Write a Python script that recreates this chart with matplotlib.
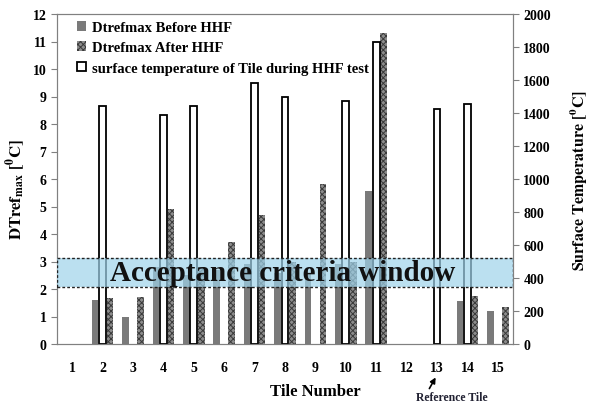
import matplotlib
matplotlib.use("Agg")
import matplotlib.pyplot as plt
import matplotlib.patches as mpatches
from matplotlib.transforms import blended_transform_factory
import numpy as np

plt.rcParams['font.family'] = ['Liberation Serif', 'DejaVu Serif']
plt.rcParams['font.weight'] = 'bold'
plt.rcParams['mathtext.fontset'] = 'stix'
plt.rcParams['hatch.linewidth'] = 0.7

tiles = list(range(1, 16))
before = [0, 1.6, 1.0, 2.8, 2.5, 2.7, 2.9, 2.6, 2.6, 2.9, 5.55, 0, 0, 1.58, 1.21]
after = [0, 1.67, 1.7, 4.9, 2.8, 3.7, 4.7, 3.0, 5.82, 3.0, 11.3, 0, 0, 1.76, 1.36]
surface = [0, 1440, 0, 1390, 1440, 0, 1580, 1500, 0, 1475, 1830, 0, 1425, 1455, 0]
window = [2.07, 3.13]

fig = plt.figure(figsize=(5.9, 4.1), dpi=100)
ax = fig.add_axes([57/590, 1-345/410, (513-57)/590, (345-15)/410])
ax2 = ax.twinx()

x = np.array(tiles, dtype=float)
w = 0.22
off = 0.245


def nz(xs, vals):
    xs = np.asarray(xs)
    v = np.asarray(vals, dtype=float)
    m = v > 0
    return xs[m], v[m]


bx, bv = nz(x - off, before)
axx, av = nz(x + off, after)
sx, sv = nz(x, surface)
ax.bar(bx, bv, w, color='#7a7a7a', edgecolor='none', zorder=2)
ax.bar(axx, av, w, color='#8c8c8c', edgecolor='#3a3a3a', hatch='xxxxxx', linewidth=0, zorder=2)
ax2.bar(sx, sv, w, color='white', edgecolor='black', linewidth=1.3, zorder=2)

ax.set_xlim(0.5, 15.5)
ax.set_ylim(0, 12)
ax2.set_ylim(0, 2000)
ax.set_yticks(range(0, 13))
ax2.set_yticks(range(0, 2001, 200))
ax.set_xticks(tiles)

for a in (ax, ax2):
    for s in a.spines.values():
        s.set_color('#808080')
ax.tick_params(axis='x', length=0, pad=12, labelsize=10)
ax.tick_params(axis='y', length=4, color='#808080', labelsize=10, direction='out')
ax2.tick_params(axis='y', length=4, color='#808080', labelsize=10, direction='out')
for lab in ax.get_xticklabels() + ax.get_yticklabels() + ax2.get_yticklabels():
    lab.set_fontweight('bold')

# acceptance window band (on top of all bars)
tr = blended_transform_factory(ax2.transAxes, ax.transData)
band = mpatches.Rectangle((0, window[0]), 1, window[1] - window[0], transform=tr,
                          facecolor='#9fd3ea', alpha=0.7, edgecolor='none', zorder=5)
ax2.add_patch(band)
border = mpatches.Rectangle((0, window[0]), 1, window[1] - window[0], transform=tr,
                            facecolor='none', edgecolor='#222222', linestyle=(0, (2, 1.5)),
                            linewidth=1.0, zorder=6)
ax2.add_patch(border)
ax2.text(7.93, 2.6, 'Acceptance criteria window',
         transform=blended_transform_factory(ax2.transData, ax.transData),
         ha='center', va='center', fontsize=21, fontweight='bold', color='#111111', zorder=7)

# legend
h1 = mpatches.Patch(facecolor='#7a7a7a', edgecolor='none')
h2 = mpatches.Patch(facecolor='#8c8c8c', edgecolor='#3a3a3a', hatch='xxxxxx', linewidth=0)
h3 = mpatches.Patch(facecolor='white', edgecolor='black', linewidth=1.3)
leg = ax2.legend([h1, h2, h3],
                 ['Dtrefmax Before HHF', 'Dtrefmax After HHF',
                  'surface temperature of Tile during HHF test'],
                 loc='upper left', bbox_to_anchor=((77-57)/456, (345-22)/330), frameon=False,
                 prop={'family': 'Liberation Serif', 'weight': 'bold', 'size': 10.5},
                 handlelength=0.65, handleheight=0.65, handletextpad=0.4, labelspacing=0.5,
                 borderaxespad=0, borderpad=0)
leg.set_zorder(10)

ax.set_ylabel(r'$\mathbf{DTref_{max}\ [^{0}C]}$', fontsize=12)
ax.yaxis.set_label_coords(-(57-28)/456, (345-189)/330)
ax2.set_ylabel(r'$\mathbf{Surface\ Temperature\ [^{0}C]}$', fontsize=11.5)
ax2.yaxis.set_label_coords((569-57)/456, 0.5)
fig.text(315/590, 1-392/410, 'Tile Number', ha='center', va='center', fontsize=12, fontweight='bold')

fig.add_artist(mpatches.FancyArrowPatch((428/590, 1-392/410), (437/590, 1-376/410),
               transform=fig.transFigure, arrowstyle='-|>', mutation_scale=8, color='black', lw=1.2))
fig.text(452/590, 1-398/410, 'Reference Tile', ha='center', va='center', fontsize=8.5, fontweight='bold',
         color='#222233')

fig.savefig('out.png', dpi=100)
